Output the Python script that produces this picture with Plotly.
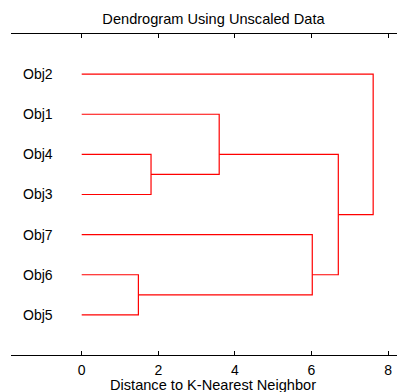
import plotly.graph_objects as go

# Leaves from bottom (y=1) to top (y=7)
leaf_labels = ["Obj5", "Obj6", "Obj7", "Obj3", "Obj4", "Obj1", "Obj2"]
# Linkage: (child A, child B, merge distance); new clusters numbered from 7 upward
link_a = [1, 3, 5, 2, 9, 6]
link_b = [0, 4, 8, 7, 10, 11]
link_height = [1.48, 1.81, 3.59, 6.02, 6.70, 7.61]
x_ticks = [0, 2, 4, 6, 8]

n = len(leaf_labels)
pos = {i: float(i + 1) for i in range(n)}
members = {i: [i] for i in range(n)}
hgt = {i: 0.0 for i in range(n)}

xs, ys = [], []
for k, (a, b, h) in enumerate(zip(link_a, link_b, link_height)):
    xs += [hgt[a], h, h, hgt[b], None]
    ys += [pos[a], pos[a], pos[b], pos[b], None]
    cid = n + k
    members[cid] = members[a] + members[b]
    pos[cid] = sum(pos[m] for m in members[cid]) / len(members[cid])
    hgt[cid] = h

fig = go.Figure()
fig.add_trace(go.Scatter(x=xs, y=ys, mode="lines",
                         line=dict(color="#FF0000", width=1.2),
                         hoverinfo="skip", showlegend=False))

font = dict(family="Liberation Sans, Arial, Helvetica, sans-serif", size=14, color="#000000")
tfont = dict(font, size=14.6)

# page body has an 8px margin, so the figure is offset by 8px right and down
fig.update_layout(
    width=405, height=392,
    margin=dict(l=3, r=0, t=26, b=45),
    paper_bgcolor="white", plot_bgcolor="white",
    font=font,
    title=dict(text="Dendrogram Using Unscaled Data", x=205.5 / 405, xref="container",
               xanchor="center", y=1 - 11 / 392, yref="container", yanchor="middle",
               font=tfont),
    xaxis=dict(range=[-1.846, 8.65], tickvals=x_ticks, ticks="inside", ticklen=4,
               tickcolor="black", showline=True, linecolor="black", linewidth=1,
               mirror="ticks", showgrid=False, zeroline=False, tickfont=font,
               ticklabelstandoff=2),
    yaxis=dict(range=[0, 8], tickvals=list(range(1, n + 1)), ticktext=leaf_labels,
               ticks="", showline=False, showgrid=False, zeroline=False,
               ticklabelposition="inside", ticklabelstandoff=9, tickfont=font),
    annotations=[dict(text="Distance to K-Nearest Neighbor", xref="paper", yref="paper",
                      x=(205 - 3) / 402, y=-29.5 / 321, xanchor="center", yanchor="middle",
                      showarrow=False, font=tfont)],
)

fig.write_html("out.html")
